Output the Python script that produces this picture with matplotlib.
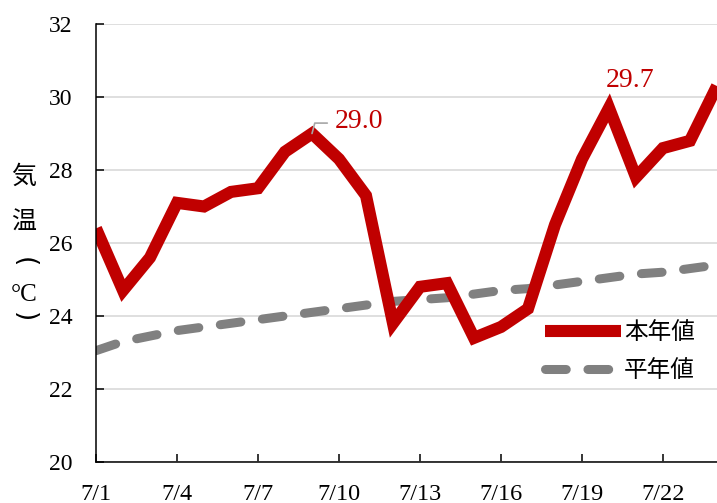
import matplotlib
matplotlib.use("Agg")
import matplotlib.pyplot as plt
import numpy as np

dates = ["7/%d" % d for d in range(1, 25)]
this_year = [26.4, 24.7, 25.6, 27.1, 27.0, 27.4, 27.5, 28.5, 29.0, 28.3, 27.3, 23.8,
             24.8, 24.9, 23.4, 23.7, 24.2, 26.5, 28.3, 29.7, 27.8, 28.6, 28.8, 30.3]
normal = [23.05, 23.3, 23.45, 23.6, 23.7, 23.8, 23.9, 24.0, 24.1, 24.2, 24.3, 24.4,
          24.45, 24.5, 24.6, 24.7, 24.75, 24.85, 24.95, 25.05, 25.15, 25.2, 25.3, 25.4]
tick_labels = ["7/1", "7/4", "7/7", "7/10", "7/13", "7/16", "7/19", "7/22"]
yticks = [20, 22, 24, 26, 28, 30, 32]
label_this = "本年値"
label_normal = "平年値"

RED = "#C00000"
GRAY = "#808080"
SERIF = ["Liberation Serif", "DejaVu Serif"]
CJK = ["Noto Sans CJK JP", "DejaVu Sans"]

# (character, rotation, size, family) for the stacked y label "気温（℃）"
ylabel_chars = [("気", 0, 18, CJK), ("温", 0, 18, CJK), ("(", -90, 19, ["DejaVu Sans"]),
                ("°C", 0, 18, SERIF), (")", -90, 19, ["DejaVu Sans"])]

W, H = 717, 503
fig = plt.figure(figsize=(W / 100, H / 100), dpi=100)
ax = fig.add_axes([96 / W, 1 - 462 / H, 1 - 96 / W, (462 - 24) / H])

x = np.arange(len(dates))
ax.plot(x, normal, color=GRAY, lw=6.5, dashes=(2.3, 2.4), dash_capstyle="round",
        label=label_normal, zorder=3)
ax.plot(x, this_year, color=RED, lw=8.7, solid_capstyle="butt", solid_joinstyle="miter",
        label=label_this, zorder=4)

ax.set_xlim(0, len(dates) - 1)
ax.set_ylim(20, 32)
ax.set_yticks(yticks)
ax.set_yticklabels([str(v) for v in yticks], fontfamily=SERIF, fontsize=17)
tick_pos = [dates.index(t) for t in tick_labels]
ax.set_xticks(tick_pos)
ax.set_xticklabels(tick_labels, fontfamily=SERIF, fontsize=17.5)
ax.tick_params(axis="y", direction="in", length=6, width=1.1, pad=17, colors="black")
ax.tick_params(axis="x", direction="in", length=6, width=1.1, pad=16, colors="black")

ax.grid(axis="y", color="#d9d9d9", lw=1.2, zorder=0)
ax.set_axisbelow(True)
for s in ["top", "right"]:
    ax.spines[s].set_visible(False)
for s in ["left", "bottom"]:
    ax.spines[s].set_linewidth(1.1)
    ax.spines[s].set_zorder(5)

# y label stacked vertically
ylab_y = [177, 223, 262, 295, 317]
for (ch, rot, fs, fam), py in zip(ylabel_chars, ylab_y):
    fig.text(24 / W, 1 - py / H, ch, fontfamily=fam, fontsize=fs, rotation=rot,
             ha="center", va="center")

# annotations
i_max1 = 8
ax.annotate("", xy=(x[i_max1], this_year[i_max1]), xytext=(11, 7.5),
            textcoords="offset points",
            arrowprops=dict(arrowstyle="-", color="#a6a6a6", lw=1.2,
                            shrinkA=0, shrinkB=0,
                            connectionstyle="angle,angleA=0,angleB=75,rad=0"),
            zorder=6)
ax.annotate("%.1f" % this_year[i_max1], xy=(x[i_max1], this_year[i_max1]),
            xytext=(16.5, 8.5), textcoords="offset points", ha="left", va="center",
            color=RED, fontfamily=SERIF, fontsize=20, zorder=6)
i_max2 = 19
ax.annotate("%.1f" % this_year[i_max2], xy=(x[i_max2], this_year[i_max2]),
            xytext=(15, 19.5), textcoords="offset points", ha="center", va="center",
            color=RED, fontfamily=SERIF, fontsize=20, zorder=6)

handles, labels = ax.get_legend_handles_labels()
leg = ax.legend(handles[::-1], labels[::-1], loc="upper left",
                bbox_to_anchor=(545 / W, 1 - 321 / H), bbox_transform=fig.transFigure,
                frameon=False, prop={"family": CJK, "size": 17}, handlelength=3.2,
                handletextpad=0.15, labelspacing=0.65, borderpad=0, borderaxespad=0)
leg.set_zorder(7)

fig.savefig("out.png", dpi=100)
